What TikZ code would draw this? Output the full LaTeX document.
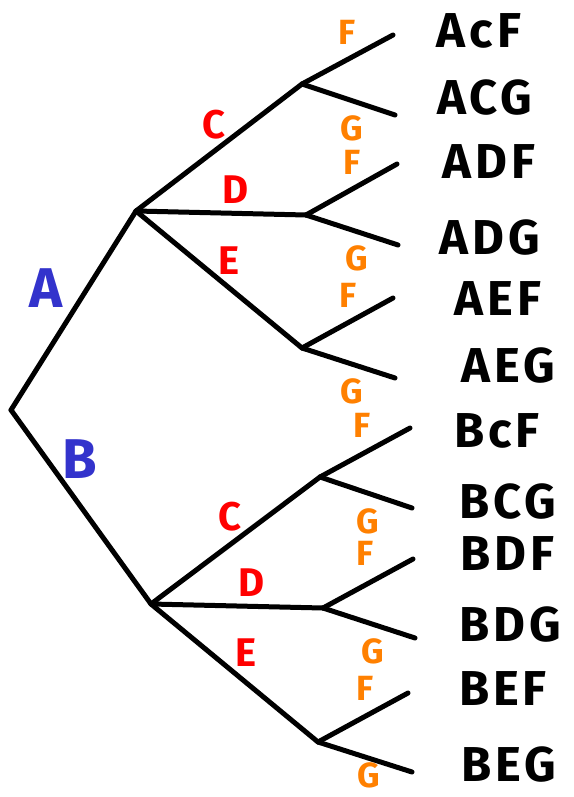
\documentclass[tikz,border=0pt]{standalone}
\usepackage{fontspec}
\setmainfont{Fira Sans}
\definecolor{bblue}{RGB}{51,51,204}
\definecolor{rred}{RGB}{255,0,0}
\definecolor{oorange}{RGB}{255,128,0}
\begin{document}
\begin{tikzpicture}[x=1pt,y=-1pt,
  br/.style={line width=5pt,line cap=round,line join=round},
  lvlA/.style={text=bblue,font=\bfseries\fontsize{56}{56}\selectfont,inner sep=0pt},
  lvlC/.style={text=rred,font=\bfseries\fontsize{40}{40}\selectfont,inner sep=0pt},
  lvlF/.style={text=oorange,font=\bfseries\fontsize{35}{35}\selectfont,inner sep=0pt},
  outc/.style={text=black,font=\bfseries\fontsize{49}{49}\selectfont\addfontfeatures{LetterSpace=8},inner sep=0pt}]
\useasboundingbox (0,0) rectangle (573,797);
% nodes
\coordinate (r) at (11,410);
\coordinate (a) at (136,211);
\coordinate (b) at (151,604);
\coordinate (ac) at (302,84);
\coordinate (ad) at (306,215);
\coordinate (ae) at (302,348);
\coordinate (bc) at (320,477);
\coordinate (bd) at (323,608);
\coordinate (be) at (318,742);
\coordinate (acf) at (393,35);
\coordinate (acg) at (395,115);
\coordinate (adf) at (397,164);
\coordinate (adg) at (398,245);
\coordinate (aef) at (393,298);
\coordinate (aeg) at (395,378);
\coordinate (bcf) at (410,428);
\coordinate (bcg) at (412,508);
\coordinate (bdf) at (413,559);
\coordinate (bdg) at (415,638);
\coordinate (bef) at (408,693);
\coordinate (beg) at (412,772);
% branches
\draw[br] (r) -- (a);
\draw[br] (r) -- (b);
\foreach \s/\t in {a/ac,a/ad,a/ae,b/bc,b/bd,b/be,
  ac/acf,ac/acg,ad/adf,ad/adg,ae/aef,ae/aeg,
  bc/bcf,bc/bcg,bd/bdf,bd/bdg,be/bef,be/beg}
  \draw[br] (\s) -- (\t);
% labels
\node[lvlA] (la) at (46,288) {A};
\node[lvlA] (lb) at (80,459) {B};
\node[lvlC] (lac) at (214,125) {C};
\node[lvlC] (lad) at (236,190) {D};
\node[lvlC] (lae) at (229,261) {E};
\node[lvlC] (lbc) at (230,517) {C};
\node[lvlC] (lbd) at (252,583) {D};
\node[lvlC] (lbe) at (246,653) {E};
\node[lvlF] (f1) at (347,32) {F};
\node[lvlF] (g1) at (352,128) {G};
\node[lvlF] (f2) at (352,162) {F};
\node[lvlF] (g2) at (357,258) {G};
\node[lvlF] (f3) at (348,295) {F};
\node[lvlF] (g3) at (352,391) {G};
\node[lvlF] (f4) at (362,425) {F};
\node[lvlF] (g4) at (368,521) {G};
\node[lvlF] (f5) at (365,553) {F};
\node[lvlF] (g5) at (373,651) {G};
\node[lvlF] (f6) at (365,688) {F};
\node[lvlF] (g6) at (369,775) {G};
% outcomes
\node[outc] (o1) at (479,31) {AcF};
\node[outc] (o2) at (485,98) {ACG};
\node[outc] (o3) at (489,162) {ADF};
\node[outc] (o4) at (490,238) {ADG};
\node[outc] (o5) at (498,299) {AEF};
\node[outc] (o6) at (508,366) {AEG};
\node[outc] (o7) at (497,431) {BcF};
\node[outc] (o8) at (508,502) {BCG};
\node[outc] (o9) at (507,554) {BDF};
\node[outc] (o10) at (510,625) {BDG};
\node[outc] (o11) at (503,689) {BEF};
\node[outc] (o12) at (509,765) {BEG};
\end{tikzpicture}
\end{document}
